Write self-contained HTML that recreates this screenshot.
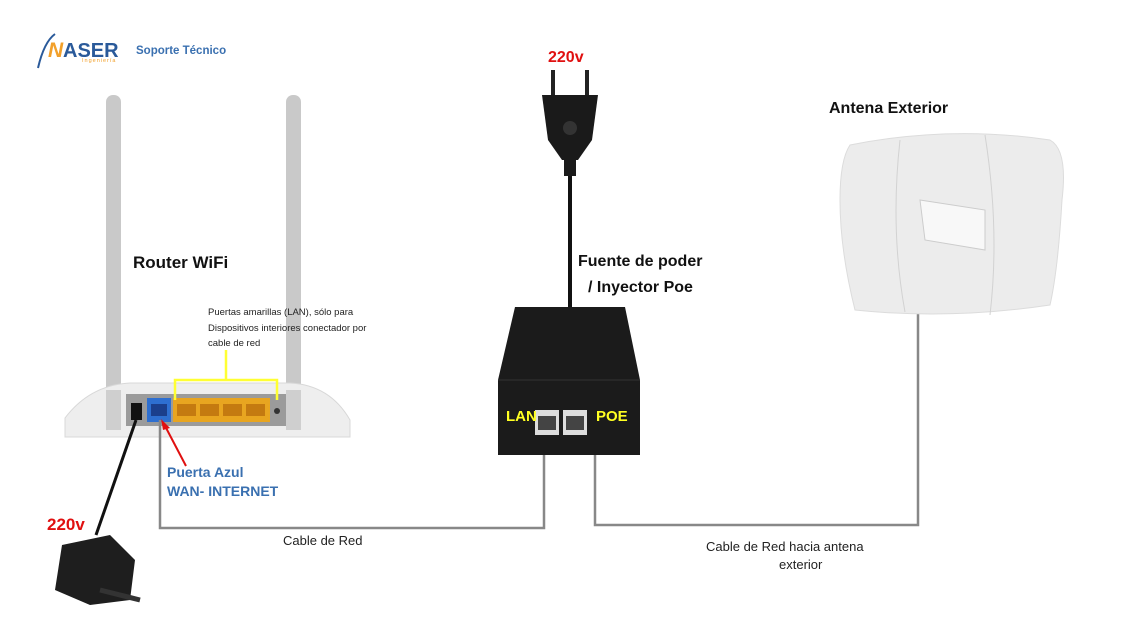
<!DOCTYPE html>
<html><head><meta charset="utf-8"><style>
html,body{margin:0;padding:0;background:#fff;}
svg{display:block;font-family:"Liberation Sans",sans-serif;}
</style></head><body>
<svg width="1126" height="620" viewBox="0 0 1126 620">
<rect width="1126" height="620" fill="#fff"/>
<!-- logo -->
<text x="48" y="57" font-size="21" font-weight="bold" fill="#f2a02a" font-style="italic">N</text>
<text x="63" y="57" font-size="20" font-weight="bold" fill="#2a5a9a">ASER</text>
<path d="M38 68 Q44 42 55 34" stroke="#2a5a9a" stroke-width="2" fill="none"/>
<text x="82" y="62" font-size="5.5" fill="#f2a02a" letter-spacing="1">Ingeniería</text>
<text x="136" y="54" font-size="11.5" font-weight="bold" fill="#3a70b0">Soporte Técnico</text>
<!-- router antennas -->
<rect x="106" y="95" width="15" height="330" rx="7" fill="#c9c9c9"/>
<rect x="286" y="95" width="15" height="330" rx="7" fill="#c9c9c9"/>
<!-- router body -->
<path d="M65 418 Q90 385 130 383 L290 383 Q330 385 350 420 L350 437 L65 437 Z" fill="#eeeeee" stroke="#d8d8d8"/>
<rect x="126" y="394" width="172" height="32" fill="#9b9b9b"/>
<rect x="106" y="390" width="15" height="40" fill="#cfcfcf"/>
<rect x="286" y="390" width="15" height="40" fill="#cfcfcf"/>
<rect x="131" y="403" width="11" height="17" fill="#111"/>
<rect x="147" y="398" width="24" height="24" fill="#2e6fd0"/>
<rect x="151" y="404" width="16" height="12" fill="#1b3f8c"/>
<rect x="173" y="398" width="97" height="24" fill="#e8a520"/>
<g fill="#c47a10"><rect x="177" y="404" width="19" height="12"/><rect x="200" y="404" width="19" height="12"/><rect x="223" y="404" width="19" height="12"/><rect x="246" y="404" width="19" height="12"/></g>
<circle cx="277" cy="411" r="3" fill="#333"/>
<!-- yellow bracket -->
<path d="M175 400 L175 380 L277 380 L277 400 M226 380 L226 350" stroke="#ffff33" stroke-width="2.5" fill="none"/>
<text font-size="9.5" fill="#222"><tspan x="208" y="315">Puertas amarillas (LAN), sólo para</tspan><tspan x="208" y="331">Dispositivos interiores conectador por</tspan><tspan x="208" y="346">cable de red</tspan></text>
<text x="133" y="268" font-size="17" font-weight="bold" fill="#111">Router WiFi</text>
<!-- power cord -->
<path d="M136 420 L96 535" stroke="#111" stroke-width="3" fill="none"/>
<path d="M62 545 L110 535 L135 560 L130 600 L90 605 L55 590 Z" fill="#1e1e1e"/>
<path d="M100 590 L140 600" stroke="#333" stroke-width="5"/>
<text x="47" y="530" font-size="17" font-weight="bold" fill="#e01010">220v</text>
<!-- red arrow -->
<path d="M186 466 L164 424" stroke="#e01010" stroke-width="2"/>
<path d="M161 419 L170 428 L163 430 Z" fill="#e01010"/>
<text x="167" y="477" font-size="14" font-weight="bold" fill="#3a70b0">Puerta Azul</text>
<text x="167" y="496" font-size="14" font-weight="bold" fill="#3a70b0">WAN- INTERNET</text>
<!-- cables -->
<path d="M160 420 L160 528 L544 528 L544 420" stroke="#888" stroke-width="2.5" fill="none"/>
<path d="M595 420 L595 525 L918 525 L918 300" stroke="#888" stroke-width="2.5" fill="none"/>
<text x="283" y="545" font-size="13" fill="#222">Cable de Red</text>
<text x="706" y="551" font-size="13" fill="#222">Cable de Red hacia antena</text>
<text x="779" y="569" font-size="13" fill="#222">exterior</text>
<!-- plug and cord -->
<path d="M570 170 L570 310" stroke="#111" stroke-width="4"/>
<path d="M553 70 L553 95 M587 70 L587 95" stroke="#222" stroke-width="4"/>
<path d="M542 95 L598 95 L592 140 L578 160 L562 160 L548 140 Z" fill="#1a1a1a"/>
<circle cx="570" cy="128" r="7" fill="#333"/>
<rect x="564" y="158" width="12" height="18" fill="#1a1a1a"/>
<text x="548" y="62" font-size="16" font-weight="bold" fill="#e01010">220v</text>
<text x="578" y="266" font-size="16" font-weight="bold" fill="#111">Fuente de poder</text>
<text x="588" y="292" font-size="16" font-weight="bold" fill="#111">/ Inyector Poe</text>
<!-- injector -->
<path d="M515 307 L625 307 L640 380 L640 455 L498 455 L498 380 Z" fill="#1b1b1b"/>
<path d="M498 380 L640 380" stroke="#333"/>
<rect x="535" y="410" width="24" height="25" fill="#ddd"/>
<rect x="563" y="410" width="24" height="25" fill="#ddd"/>
<rect x="538" y="416" width="18" height="14" fill="#444"/>
<rect x="566" y="416" width="18" height="14" fill="#444"/>
<text x="506" y="421" font-size="15" font-weight="bold" fill="#ffff22">LAN</text>
<text x="596" y="421" font-size="15" font-weight="bold" fill="#ffff22">POE</text>
<!-- antenna -->
<text x="829" y="113" font-size="16" font-weight="bold" fill="#111">Antena Exterior</text>
<path d="M850 145 Q950 125 1050 140 Q1068 150 1062 200 Q1058 270 1050 305 Q950 320 855 310 Q840 250 840 200 Q840 160 850 145 Z" fill="#ececec" stroke="#dcdcdc"/>
<path d="M900 140 Q890 230 905 312 M985 135 Q1000 230 990 315" stroke="#d2d2d2" fill="none"/>
<path d="M920 200 L985 210 L985 250 L925 240 Z" fill="#f8f8f8" stroke="#ccc"/>
</svg>
</body></html>
